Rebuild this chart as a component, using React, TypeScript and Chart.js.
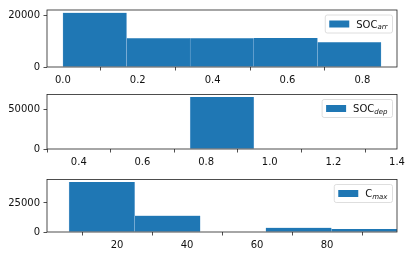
import React, { useEffect, useRef } from 'react';
import { Chart, registerables } from 'chart.js';

Chart.register(...registerables);

// ---- data ----
const socArrEdges = [0, 0.17, 0.34, 0.51, 0.68, 0.85];
const socArrCounts = [21100, 11200, 11200, 11300, 9650];
const socDepEdges = [0.35, 0.55, 0.75, 0.95, 1.15, 1.35];
const socDepCounts = [0, 0, 66000, 0, 0];
const cMaxEdges = [6.3, 25.04, 43.78, 62.52, 81.26, 100];
const cMaxCounts = [43100, 14100, 0, 3700, 2600];

const socArrXTicks = [0, 0.2, 0.4, 0.6, 0.8];
const socDepXTicks = [0.4, 0.6, 0.8, 1.0, 1.2, 1.4];
const cMaxXTicks = [20, 40, 60, 80];
const socArrYTicks = [0, 20000];
const socDepYTicks = [0, 50000];
const cMaxYTicks = [0, 25000];

const socArrLabel = ['SOC', 'arr'];
const socDepLabel = ['SOC', 'dep'];
const cMaxLabel = ['C', 'max'];

const BLUE = '#1f77b4';
const FONT = '"DejaVu Sans", sans-serif';

type Panel = {
  edges: number[];
  counts: number[];
  xTicks: number[];
  yTicks: number[];
  label: string[];
  xLim?: [number, number];
  decimals: number;
  top: number;
  height: number;
  padTop: number;
  plotBottom: number;
};

const panels: Panel[] = [
  { edges: socArrEdges, counts: socArrCounts, xTicks: socArrXTicks, yTicks: socArrYTicks, label: socArrLabel, decimals: 1, top: 0, height: 85, padTop: 10, plotBottom: 67 },
  { edges: socDepEdges, counts: socDepCounts, xTicks: socDepXTicks, yTicks: socDepYTicks, label: socDepLabel, decimals: 1, top: 85, height: 85, padTop: 7, plotBottom: 64 },
  { edges: cMaxEdges, counts: cMaxCounts, xTicks: cMaxXTicks, yTicks: cMaxYTicks, label: cMaxLabel, xLim: [0, 100], decimals: 0, top: 170, height: 87, padTop: 5, plotBottom: 62 },
];

const framePlugin = {
  id: 'frameLegend',
  afterDraw(chart: any, _args: any, opts: any) {
    const { ctx, chartArea: a } = chart;
    ctx.save();
    ctx.strokeStyle = '#222';
    ctx.lineWidth = 0.8;
    ctx.strokeRect(a.left, a.top, a.right - a.left, a.bottom - a.top);

    const main: string = opts.main;
    const sub: string = opts.sub;
    ctx.font = `10px ${FONT}`;
    const wMain = ctx.measureText(main).width;
    ctx.font = `italic 7px ${FONT}`;
    const wSub = ctx.measureText(sub).width;
    const pad = 4, handle = 20, gap = 7;
    const w = pad + handle + gap + wMain + wSub + pad + 1;
    const h = 18;
    const x0 = a.right - 4.5 - w;
    const y0 = a.top + 5;
    const r = 2;
    ctx.beginPath();
    ctx.moveTo(x0 + r, y0);
    ctx.lineTo(x0 + w - r, y0);
    ctx.quadraticCurveTo(x0 + w, y0, x0 + w, y0 + r);
    ctx.lineTo(x0 + w, y0 + h - r);
    ctx.quadraticCurveTo(x0 + w, y0 + h, x0 + w - r, y0 + h);
    ctx.lineTo(x0 + r, y0 + h);
    ctx.quadraticCurveTo(x0, y0 + h, x0, y0 + h - r);
    ctx.lineTo(x0, y0 + r);
    ctx.quadraticCurveTo(x0, y0, x0 + r, y0);
    ctx.closePath();
    ctx.fillStyle = 'rgba(255,255,255,0.8)';
    ctx.fill();
    ctx.strokeStyle = '#d6d6d6';
    ctx.lineWidth = 0.8;
    ctx.stroke();

    const cy = y0 + h / 2;
    ctx.fillStyle = BLUE;
    ctx.fillRect(x0 + pad, cy - 3.5, handle, 7);

    ctx.fillStyle = '#111';
    ctx.textBaseline = 'alphabetic';
    ctx.textAlign = 'left';
    ctx.font = `10px ${FONT}`;
    const tx = x0 + pad + handle + gap;
    const base = cy + 3.6;
    ctx.fillText(main, tx, base);
    ctx.font = `italic 7px ${FONT}`;
    ctx.fillText(sub, tx + wMain, base + 1.8);
    ctx.restore();
  },
};

function PanelChart({ p }: { p: Panel }) {
  const ref = useRef<HTMLCanvasElement | null>(null);
  useEffect(() => {
    if (!ref.current) return;
    const first = p.edges[0];
    const last = p.edges[p.edges.length - 1];
    const span = last - first;
    const xMin = p.xLim ? p.xLim[0] : first - 0.05 * span;
    const xMax = p.xLim ? p.xLim[1] : last + 0.05 * span;
    const yMax = 1.05 * Math.max(...p.counts);
    const data = p.counts.map((c, i) => ({ x: (p.edges[i] + p.edges[i + 1]) / 2, y: c }));
    const chart = new Chart(ref.current, {
      type: 'bar',
      data: {
        datasets: [
          {
            data: data as any,
            backgroundColor: BLUE,
            borderColor: '#9cc2e2',
            borderWidth: { left: 0.5, right: 0.5, top: 0, bottom: 0 } as any,
            borderSkipped: false,
            barPercentage: 1,
            categoryPercentage: 1,
            grouped: false,
          },
        ],
      },
      options: {
        animation: false,
        responsive: false,
        devicePixelRatio: 1,
        layout: { padding: { left: 0, right: 18, top: p.padTop, bottom: 0 } },
        plugins: {
          legend: { display: false },
          tooltip: { enabled: false },
          frameLegend: { main: p.label[0], sub: p.label[1] },
        } as any,
        scales: {
          x: {
            type: 'linear',
            min: xMin,
            max: xMax,
            offset: false,
            grid: { drawOnChartArea: false, drawTicks: true, tickLength: 3.5, color: '#222', lineWidth: 0.8 },
            border: { display: false },
            afterBuildTicks: (s: any) => {
              s.ticks = p.xTicks.map((v) => ({ value: v }));
            },
            afterFit: (s: any) => {
              s.height = p.height - p.plotBottom;
            },
            ticks: {
              autoSkip: false,
              maxRotation: 0,
              minRotation: 0,
              padding: 3.5,
              color: '#111',
              font: { family: FONT, size: 10 },
              callback: (v: any) => Number(v).toFixed(p.decimals),
            },
          },
          y: {
            type: 'linear',
            min: 0,
            max: yMax,
            grid: { drawOnChartArea: false, drawTicks: true, tickLength: 3.5, color: '#222', lineWidth: 0.8 },
            border: { display: false },
            afterBuildTicks: (s: any) => {
              s.ticks = p.yTicks.map((v) => ({ value: v }));
            },
            afterFit: (s: any) => {
              s.width = 47;
            },
            ticks: {
              padding: 3.5,
              color: '#111',
              font: { family: FONT, size: 10 },
              callback: (v: any) => String(v),
            },
          },
        },
      },
      plugins: [framePlugin as any],
    });
    return () => chart.destroy();
  }, [p]);
  return (
    <canvas
      ref={ref}
      width={415}
      height={p.height}
      style={{ position: 'absolute', left: 0, top: p.top, width: 415, height: p.height }}
    />
  );
}

export default function App() {
  return (
    <div style={{ position: 'absolute', left: 0, top: 0, width: 415, height: 257, background: '#fff' }}>
      {panels.map((p, i) => (
        <PanelChart key={i} p={p} />
      ))}
    </div>
  );
}
